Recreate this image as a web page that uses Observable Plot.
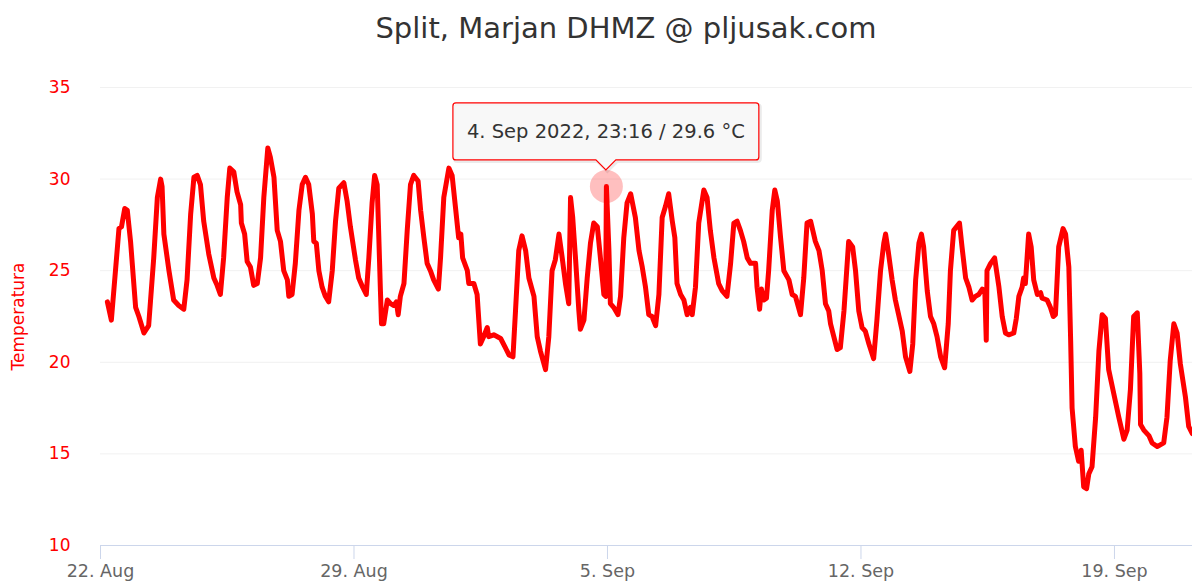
<!DOCTYPE html>
<html><head><meta charset="utf-8">
<script src="https://cdn.jsdelivr.net/npm/d3@7"></script>
<script src="https://cdn.jsdelivr.net/npm/@observablehq/plot@0.6"></script>
<style>
body{margin:0;background:#fff;font-family:"DejaVu Sans",sans-serif;width:1192px;height:581px;overflow:hidden;position:relative;}
#title{position:absolute;left:626px;top:11px;transform:translateX(-50%);white-space:nowrap;font-size:29px;color:#333;}
#chart{position:absolute;left:0;top:60px;}
</style></head><body>
<div id="title">Split, Marjan DHMZ @ pljusak.com</div>
<div id="chart"></div>
<script>
const startDate = Date.UTC(2022, 7, 22);
const dayOffsets = [0.19,0.30,0.51,0.58,0.67,0.74,0.83,0.97,1.06,1.20,1.33,1.47,1.57,1.66,1.70,1.75,1.89,2.02,2.16,2.30,2.39,2.49,2.58,2.67,2.76,2.85,2.99,3.13,3.22,3.31,3.40,3.50,3.57,3.68,3.77,3.87,3.89,3.98,4.05,4.14,4.23,4.33,4.42,4.51,4.62,4.69,4.79,4.88,4.97,5.06,5.16,5.20,5.29,5.38,5.48,5.57,5.66,5.75,5.85,5.89,5.96,6.03,6.12,6.21,6.30,6.40,6.49,6.58,6.72,6.81,6.90,7.04,7.13,7.24,7.34,7.41,7.50,7.57,7.64,7.68,7.73,7.76,7.82,7.92,8.01,8.10,8.17,8.22,8.28,8.38,8.47,8.56,8.65,8.77,8.84,8.93,9.02,9.11,9.20,9.33,9.39,9.48,9.62,9.71,9.80,9.89,9.95,10.00,10.13,10.17,10.31,10.40,10.49,10.58,10.68,10.72,10.86,11.05,11.18,11.28,11.39,11.46,11.55,11.64,11.74,11.83,11.97,12.06,12.15,12.29,12.38,12.47,12.56,12.66,12.75,12.84,12.93,12.98,13.04,13.12,13.21,13.25,13.35,13.44,13.53,13.62,13.72,13.81,13.90,13.95,13.97,14.04,14.08,14.17,14.29,14.36,14.45,14.54,14.64,14.77,14.87,14.96,15.05,15.14,15.23,15.33,15.42,15.51,15.60,15.69,15.79,15.86,15.92,16.02,16.11,16.20,16.29,16.34,16.43,16.52,16.66,16.75,16.84,16.94,17.07,17.17,17.30,17.40,17.49,17.58,17.67,17.76,17.86,17.95,18.09,18.13,18.20,18.25,18.32,18.39,18.45,18.55,18.62,18.69,18.78,18.87,19.01,19.10,19.19,19.33,19.42,19.51,19.61,19.74,19.84,19.93,20.02,20.11,20.16,20.25,20.34,20.43,20.53,20.66,20.77,20.85,20.94,21.03,21.12,21.22,21.35,21.44,21.54,21.63,21.68,21.75,21.86,21.95,22.04,22.14,22.23,22.35,22.43,22.51,22.60,22.67,22.73,22.83,22.92,23.01,23.10,23.20,23.31,23.41,23.47,23.56,23.72,23.79,23.89,23.98,24.07,24.16,24.25,24.35,24.42,24.46,24.48,24.58,24.69,24.81,24.90,24.99,25.08,25.22,25.29,25.36,25.45,25.49,25.54,25.63,25.70,25.77,25.87,25.96,26.00,26.14,26.23,26.31,26.37,26.46,26.58,26.65,26.74,26.79,26.83,26.92,27.01,27.08,27.15,27.23,27.29,27.38,27.48,27.57,27.66,27.75,27.84,27.98,28.12,28.26,28.35,28.44,28.53,28.63,28.70,28.72,28.81,28.95,29.04,29.18,29.36,29.45,29.54,29.64,29.73,29.82,29.96,30.05,30.15];
const temps = [23.3,22.3,27.3,27.4,28.4,28.3,26.6,23.0,22.5,21.6,22.0,25.7,29.0,30.0,29.6,27.0,25.0,23.4,23.1,22.9,24.5,28.1,30.1,30.2,29.7,27.7,25.9,24.6,24.2,23.7,25.7,29.0,30.6,30.4,29.3,28.6,27.6,27.0,25.5,25.2,24.2,24.3,25.7,29.0,31.7,31.2,30.1,27.2,26.6,25.0,24.5,23.6,23.7,25.4,28.3,29.7,30.1,29.7,28.1,26.6,26.5,25.0,24.1,23.6,23.3,25.0,27.7,29.5,29.8,28.8,27.4,25.6,24.6,24.1,23.7,25.7,28.7,30.2,29.7,27.2,23.9,22.1,22.1,23.4,23.2,23.1,23.3,22.6,23.6,24.3,27.2,29.7,30.2,29.9,28.3,26.8,25.4,25.0,24.5,24.0,25.7,29.0,30.6,30.2,28.5,26.8,27.0,25.7,25.0,24.3,24.3,23.7,21.0,21.4,21.9,21.4,21.5,21.3,20.8,20.4,20.3,22.8,26.1,26.9,26.1,24.6,23.6,21.4,20.6,19.6,21.4,25.0,25.6,27.0,25.7,24.3,23.2,29.0,27.9,25.6,22.8,21.8,22.3,24.6,26.5,27.6,27.4,25.6,23.7,23.6,29.6,26.1,23.2,23.0,22.6,23.6,26.8,28.7,29.2,27.9,26.1,25.2,24.1,22.6,22.5,22.0,23.7,27.9,28.5,29.2,27.7,26.8,24.3,23.7,23.4,22.6,23.0,22.6,24.1,27.6,29.4,29.0,27.2,25.7,24.3,23.9,23.6,25.4,27.6,27.7,27.2,26.6,25.7,25.4,25.4,24.1,22.9,24.0,23.4,23.5,25.0,28.3,29.4,28.8,26.8,25.0,24.5,23.7,23.6,22.6,24.6,27.6,27.7,26.6,26.1,25.0,23.2,22.8,22.1,21.4,20.7,20.8,22.8,26.6,26.3,25.0,22.8,21.9,21.7,21.0,20.2,22.3,25.0,26.5,27.0,26.1,24.5,23.4,22.6,21.7,20.3,19.5,21.0,24.5,26.5,27.0,26.3,23.9,22.5,22.1,21.4,20.3,19.7,22.1,25.0,27.2,27.6,26.3,24.6,24.1,23.4,23.6,23.7,24.0,23.9,21.2,25.0,25.4,25.7,24.1,22.5,21.6,21.5,21.6,22.4,23.6,24.1,24.6,24.3,27.0,26.3,24.5,23.7,23.8,23.5,23.4,23.0,22.5,22.6,26.3,27.3,27.0,25.2,21.2,17.5,15.4,14.6,15.2,13.2,13.1,13.9,14.3,17.0,20.6,22.6,22.4,19.6,18.3,17.0,15.8,16.3,18.5,22.5,22.7,19.4,16.6,16.3,16.0,15.6,15.4,15.6,17.0,20.1,22.1,21.6,19.9,18.1,16.5,16.1];
const xTicks = ["2022-08-22","2022-08-29","2022-09-05","2022-09-12","2022-09-19"];
const xTickLabels = ["22. Aug","29. Aug","5. Sep","12. Sep","19. Sep"];
const yTicks = [10,15,20,25,30,35];
const yGrid = [15,20,25,30,35];
const xDomain = ["2022-08-22T00:00:00Z","2022-09-21T03:43:00Z"];
const yDomain = [10,35];
const yLabel = "Temperatura";
const tipTime = "2022-09-04T23:16:00Z";
const tipValue = 29.6;
const tipText = "4. Sep 2022, 23:16 / 29.6 °C";

(function () {
  const data = dayOffsets.map((d, i) => ({date: new Date(startDate + d * 86400000), t: temps[i]}));
  const tickDates = xTicks.map(s => new Date(s + "T00:00:00Z"));
  const font = "'DejaVu Sans', sans-serif";

  const chart = Plot.plot({
    width: 1192, height: 521,
    marginLeft: 100, marginRight: 0, marginTop: 27, marginBottom: 36,
    style: {fontFamily: font, background: "#fff", overflow: "visible"},
    x: {type: "utc", domain: xDomain.map(s => new Date(s))},
    y: {domain: yDomain},
    marks: [
      Plot.gridY(yGrid, {stroke: "#f1f1f1", strokeOpacity: 1}),
      Plot.ruleY([yDomain[0]], {stroke: "#ccd6eb", strokeWidth: 1}),
      Plot.axisY({ticks: yTicks, tickSize: 0, tickPadding: 30, fill: "#ff0000", fontSize: 17, label: null}),
      Plot.axisX({ticks: tickDates, tickSize: 14, tickPadding: 5, stroke: "#ccd6eb", fill: "#666", fontSize: 17.5, label: null,
        tickFormat: d => xTickLabels[tickDates.findIndex(t => +t === +d)]}),
      Plot.text([yLabel], {frameAnchor: "left", textAnchor: "middle", rotate: -90, dx: -82, fill: "#ff0000", fontSize: 17}),
      Plot.dot([{date: new Date(tipTime), t: tipValue}], {x: "date", y: "t", r: 16.5, fill: "#ff0000", fillOpacity: 0.25, stroke: null}),
      Plot.line(data, {x: "date", y: "t", stroke: "#ff0000", strokeWidth: 5, strokeLinejoin: "round", strokeLinecap: "round", clip: true})
    ]
  });
  document.getElementById("chart").appendChild(chart);

  // tooltip positioned via the chart's scales
  const px = chart.scale("x").apply(new Date(tipTime));
  const py = chart.scale("y").apply(tipValue);
  const svg = d3.select(chart);
  const g = svg.append("g");
  const boxBottom = py - 26, boxH = 57;
  const txt = g.append("text").attr("x", px).attr("y", boxBottom - boxH / 2).attr("text-anchor", "middle")
    .attr("dominant-baseline", "central").attr("fill", "#333").attr("font-size", 19.5).attr("font-family", font).text(tipText);
  const bb = txt.node().getBBox();
  const bl = px - bb.width / 2 - 14, br = px + bb.width / 2 + 14, bt = boxBottom - boxH;
  const rr = 3;
  const path = `M${bl + rr},${bt} H${br - rr} Q${br},${bt} ${br},${bt + rr} V${boxBottom - rr} Q${br},${boxBottom} ${br - rr},${boxBottom} H${px + 10} L${px},${boxBottom + 10} L${px - 10},${boxBottom} H${bl + rr} Q${bl},${boxBottom} ${bl},${boxBottom - rr} V${bt + rr} Q${bl},${bt} ${bl + rr},${bt} Z`;
  g.insert("path", "text").attr("d", path).attr("transform", "translate(1.5,1.5)").attr("fill", "none").attr("stroke", "#000").attr("stroke-opacity", 0.08).attr("stroke-width", 3);
  g.insert("path", "text").attr("d", path).attr("fill", "rgba(247,247,247,0.9)").attr("stroke", "#ff0000").attr("stroke-width", 1.2);
})();
</script>
</body></html>
